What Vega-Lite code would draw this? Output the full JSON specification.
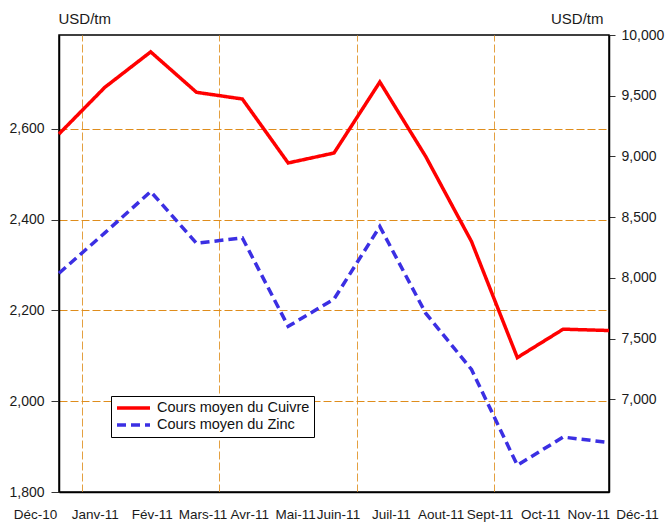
{
  "$schema": "https://vega.github.io/schema/vega-lite/v6.json",
  "width": 550,
  "height": 457,
  "autosize": {"type": "none"},
  "padding": {"left": 59, "top": 35, "right": 60, "bottom": 35},
  "background": "white",
  "config": {
    "view": {"stroke": "#000000", "strokeWidth": 1.5},
    "font": "Liberation Sans",
    "axis": {"labelFont": "Liberation Sans", "titleFont": "Liberation Sans", "labelColor": "#1a1a1a", "titleColor": "#1a1a1a", "titleFontWeight": "normal", "gridColor": "#e08a10"}
  },
  "data": {"values": [
    {"mois": "Déc-10", "i": 0, "cuivre": 9185, "zinc": 2282},
    {"mois": "Janv-11", "i": 1, "cuivre": 9569, "zinc": 2371},
    {"mois": "Fév-11", "i": 2, "cuivre": 9861, "zinc": 2462},
    {"mois": "Mars-11", "i": 3, "cuivre": 9528, "zinc": 2348},
    {"mois": "Avr-11", "i": 4, "cuivre": 9473, "zinc": 2360},
    {"mois": "Mai-11", "i": 5, "cuivre": 8946, "zinc": 2165},
    {"mois": "Juin-11", "i": 6, "cuivre": 9028, "zinc": 2225},
    {"mois": "Juil-11", "i": 7, "cuivre": 9613, "zinc": 2385},
    {"mois": "Aout-11", "i": 8, "cuivre": 9000, "zinc": 2194},
    {"mois": "Sept-11", "i": 9, "cuivre": 8299, "zinc": 2070},
    {"mois": "Oct-11", "i": 10, "cuivre": 7343, "zinc": 1859},
    {"mois": "Nov-11", "i": 11, "cuivre": 7577, "zinc": 1921},
    {"mois": "Déc-11", "i": 12, "cuivre": 7566, "zinc": 1909}
  ]},
  "layer": [
    {
      "mark": {"type": "line", "strokeWidth": 3.5, "strokeCap": "butt", "strokeJoin": "miter"},
      "encoding": {
        "x": {
          "field": "i", "type": "quantitative",
          "scale": {"domain": [0, 12], "nice": false, "zero": false},
          "axis": {"orient": "top", "values": [0.5, 3.5, 6.5, 9.5], "grid": true, "gridColor": "#e4a040", "gridDash": [8, 3], "gridWidth": 1, "labels": false, "ticks": false, "domain": false, "title": null}
        },
        "y": {
          "field": "cuivre", "type": "quantitative",
          "scale": {"domain": [6236, 10000], "nice": false, "zero": false},
          "axis": {"orient": "right", "values": [7000, 7500, 8000, 8500, 9000, 9500, 10000], "format": ",d", "grid": false,
            "tickSize": 6, "tickColor": "#333333", "tickWidth": 1, "labelPadding": 6, "labelFontSize": 14,
            "domain": true, "domainColor": "#000000", "domainWidth": 1.5,
            "title": "USD/tm", "titleAngle": 0, "titleAlign": "right", "titleBaseline": "middle", "titleX": -6, "titleY": -17, "titleFontSize": 15}
        },
        "color": {
          "datum": "Cours moyen du Cuivre", "type": "nominal",
          "scale": {"domain": ["Cours moyen du Cuivre", "Cours moyen du Zinc"], "range": ["#ff0000", "#3b2fe3"]},
          "legend": {"title": null, "orient": "none", "legendX": 52, "legendY": 361, "strokeColor": "#000000", "fillColor": "#ffffff", "padding": 4,
            "labelFont": "Liberation Sans", "labelFontSize": 14.5, "labelColor": "#111111", "labelOffset": 5,
            "symbolType": "stroke", "symbolSize": 1089, "symbolStrokeWidth": 3.5, "clipHeight": 16, "rowPadding": 1}
        },
        "strokeDash": {
          "datum": "Cours moyen du Cuivre", "type": "nominal",
          "scale": {"domain": ["Cours moyen du Cuivre", "Cours moyen du Zinc"], "range": [[1, 0], [9, 5]]},
          "legend": {"title": null, "orient": "none", "legendX": 52, "legendY": 361, "strokeColor": "#000000", "fillColor": "#ffffff", "padding": 4,
            "labelFont": "Liberation Sans", "labelFontSize": 14.5, "labelColor": "#111111", "labelOffset": 5,
            "symbolType": "stroke", "symbolSize": 1089, "symbolStrokeWidth": 3.5, "clipHeight": 16, "rowPadding": 1}
        }
      }
    },
    {
      "mark": {"type": "line", "strokeWidth": 3.5, "strokeCap": "butt", "strokeJoin": "miter"},
      "encoding": {
        "x": {
          "field": "i", "type": "quantitative",
          "scale": {"domain": [0, 12], "nice": false, "zero": false},
          "axis": {"orient": "bottom", "values": [0, 1, 2, 3, 4, 5, 6, 7, 8, 9, 10, 11, 12], "grid": false, "ticks": false, "tickSize": 0,
            "domain": true, "domainColor": "#000000", "domainWidth": 1.5,
            "labelPadding": 15, "labelFontSize": 13.5, "labelOverlap": false, "labelBound": false, "labelFlush": false,
            "labelExpr": "['Déc-10','Janv-11','Fév-11','Mars-11','Avr-11','Mai-11','Juin-11','Juil-11','Aout-11','Sept-11','Oct-11','Nov-11','Déc-11'][datum.value]",
            "labelOffset": {"expr": "[-24,-10,1,6,7,7,4,11,15,18,23,25,28][datum.value]"},
            "title": null}
        },
        "y": {
          "field": "zinc", "type": "quantitative",
          "scale": {"domain": [1800, 2807], "nice": false, "zero": false},
          "axis": {"orient": "left", "values": [1800, 2000, 2200, 2400, 2600], "format": ",d",
            "grid": true, "gridColor": "#df8d1c", "gridDash": [8, 3], "gridWidth": 1,
            "tickSize": 8, "tickColor": "#333333", "tickWidth": 1, "labelPadding": 7, "labelFontSize": 14,
            "domain": true, "domainColor": "#000000", "domainWidth": 1.5,
            "title": "USD/tm", "titleAngle": 0, "titleAlign": "left", "titleBaseline": "middle", "titleX": -1, "titleY": -17, "titleFontSize": 15}
        },
        "color": {"datum": "Cours moyen du Zinc", "type": "nominal"},
        "strokeDash": {"datum": "Cours moyen du Zinc", "type": "nominal"}
      }
    }
  ],
  "resolve": {"scale": {"y": "independent"}, "axis": {"x": "independent"}}
}
